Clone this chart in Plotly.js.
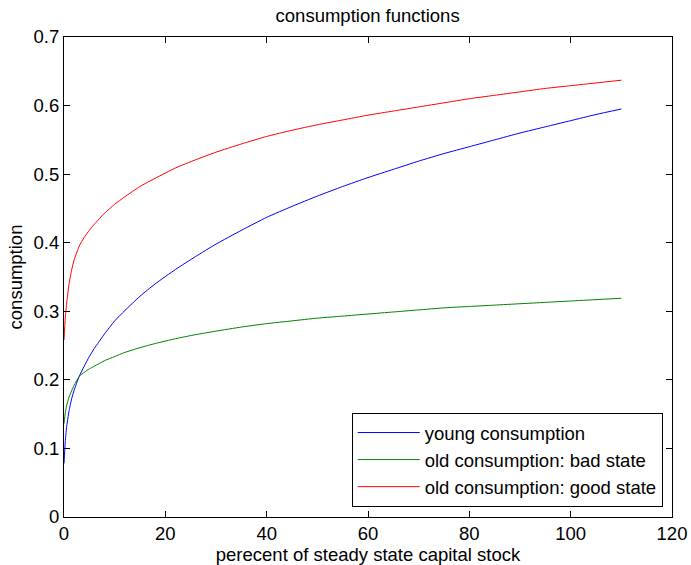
<!DOCTYPE html>
<html>
<head>
<meta charset="utf-8">
<script src="https://cdn.plot.ly/plotly-3.0.1.min.js"></script>
<style>html,body{margin:0;padding:0;background:#fff;}#chart{width:691px;height:565px;}</style>
</head>
<body>
<div id="chart"></div>
<script>
const xValues = [0, 0.25, 0.5, 1, 1.5, 2, 3, 4, 5, 6, 8, 10, 12, 15, 18, 22, 26, 30, 35, 40, 45, 50, 55, 60, 65, 70, 75, 80, 85, 90, 95, 100, 105, 110];
const youngConsumption = [0.078, 0.11, 0.13, 0.155, 0.172, 0.185, 0.205, 0.22, 0.234, 0.246, 0.267, 0.286, 0.301, 0.322, 0.340, 0.361, 0.380, 0.398, 0.418, 0.437, 0.453, 0.468, 0.482, 0.495, 0.507, 0.519, 0.530, 0.540, 0.550, 0.560, 0.569, 0.578, 0.587, 0.595];
const oldBadState = [0.136, 0.152, 0.162, 0.175, 0.184, 0.192, 0.205, 0.211, 0.216, 0.220, 0.228, 0.234, 0.240, 0.247, 0.253, 0.260, 0.266, 0.271, 0.277, 0.282, 0.286, 0.290, 0.293, 0.296, 0.299, 0.302, 0.305, 0.307, 0.309, 0.311, 0.313, 0.315, 0.317, 0.319];
const oldGoodState = [0.258, 0.29, 0.31, 0.34, 0.36, 0.375, 0.395, 0.408, 0.418, 0.427, 0.443, 0.456, 0.467, 0.482, 0.494, 0.509, 0.521, 0.532, 0.544, 0.555, 0.564, 0.572, 0.579, 0.586, 0.592, 0.598, 0.604, 0.610, 0.615, 0.620, 0.625, 0.629, 0.633, 0.637];
const seriesNames = ['young consumption', 'old consumption: bad state', 'old consumption: good state'];
const xTicks = [0, 20, 40, 60, 80, 100, 120];
const yTicks = [0, 0.1, 0.2, 0.3, 0.4, 0.5, 0.6, 0.7];
const yTickLabels = ['0', '0.1', '0.2', '0.3', '0.4', '0.5', '0.6', '0.7'];

const colors = ['#0000ff', '#008000', '#ff0000'];
const ys = [youngConsumption, oldBadState, oldGoodState];
const traces = ys.map((y, i) => ({
  x: xValues, y: y, type: 'scatter', mode: 'lines', name: seriesNames[i],
  line: {color: colors[i], width: 1, shape: 'spline', smoothing: 0.5}
}));

const font = {family: '"Liberation Sans", Arial, Helvetica, sans-serif', size: 18.5, color: '#000'};
const axisCommon = {
  showline: true, linecolor: '#000', linewidth: 1, mirror: 'ticks',
  ticks: 'inside', ticklen: 6, tickcolor: '#000', tickwidth: 1,
  showgrid: false, zeroline: false, tickfont: font
};
const layout = {
  width: 691, height: 565,
  margin: {l: 64, r: 19, t: 37, b: 48},
  paper_bgcolor: '#fff', plot_bgcolor: '#fff',
  font: font,
  title: {text: 'consumption functions', font: font, x: 0.532, xanchor: 'center', y: 1 - 16/565, yanchor: 'middle', yref: 'container'},
  xaxis: Object.assign({}, axisCommon, {range: [0, 120], tickvals: xTicks, ticktext: xTicks.map(String),
    title: {text: 'perecent of steady state capital stock', font: font, standoff: 3}}),
  yaxis: Object.assign({}, axisCommon, {range: [0, 0.7], tickvals: yTicks, ticktext: yTickLabels,
    title: {text: 'consumption', font: font, standoff: 6}}),
  showlegend: true,
  legend: {x: 0.9847, xanchor: 'right', y: 0.0208, yanchor: 'bottom', bgcolor: '#fff', bordercolor: '#000', borderwidth: 1,
    font: font, itemwidth: 62, tracegroupgap: 0}
};
Plotly.newPlot('chart', traces, layout, {displayModeBar: false, staticPlot: true});
</script>
</body>
</html>
